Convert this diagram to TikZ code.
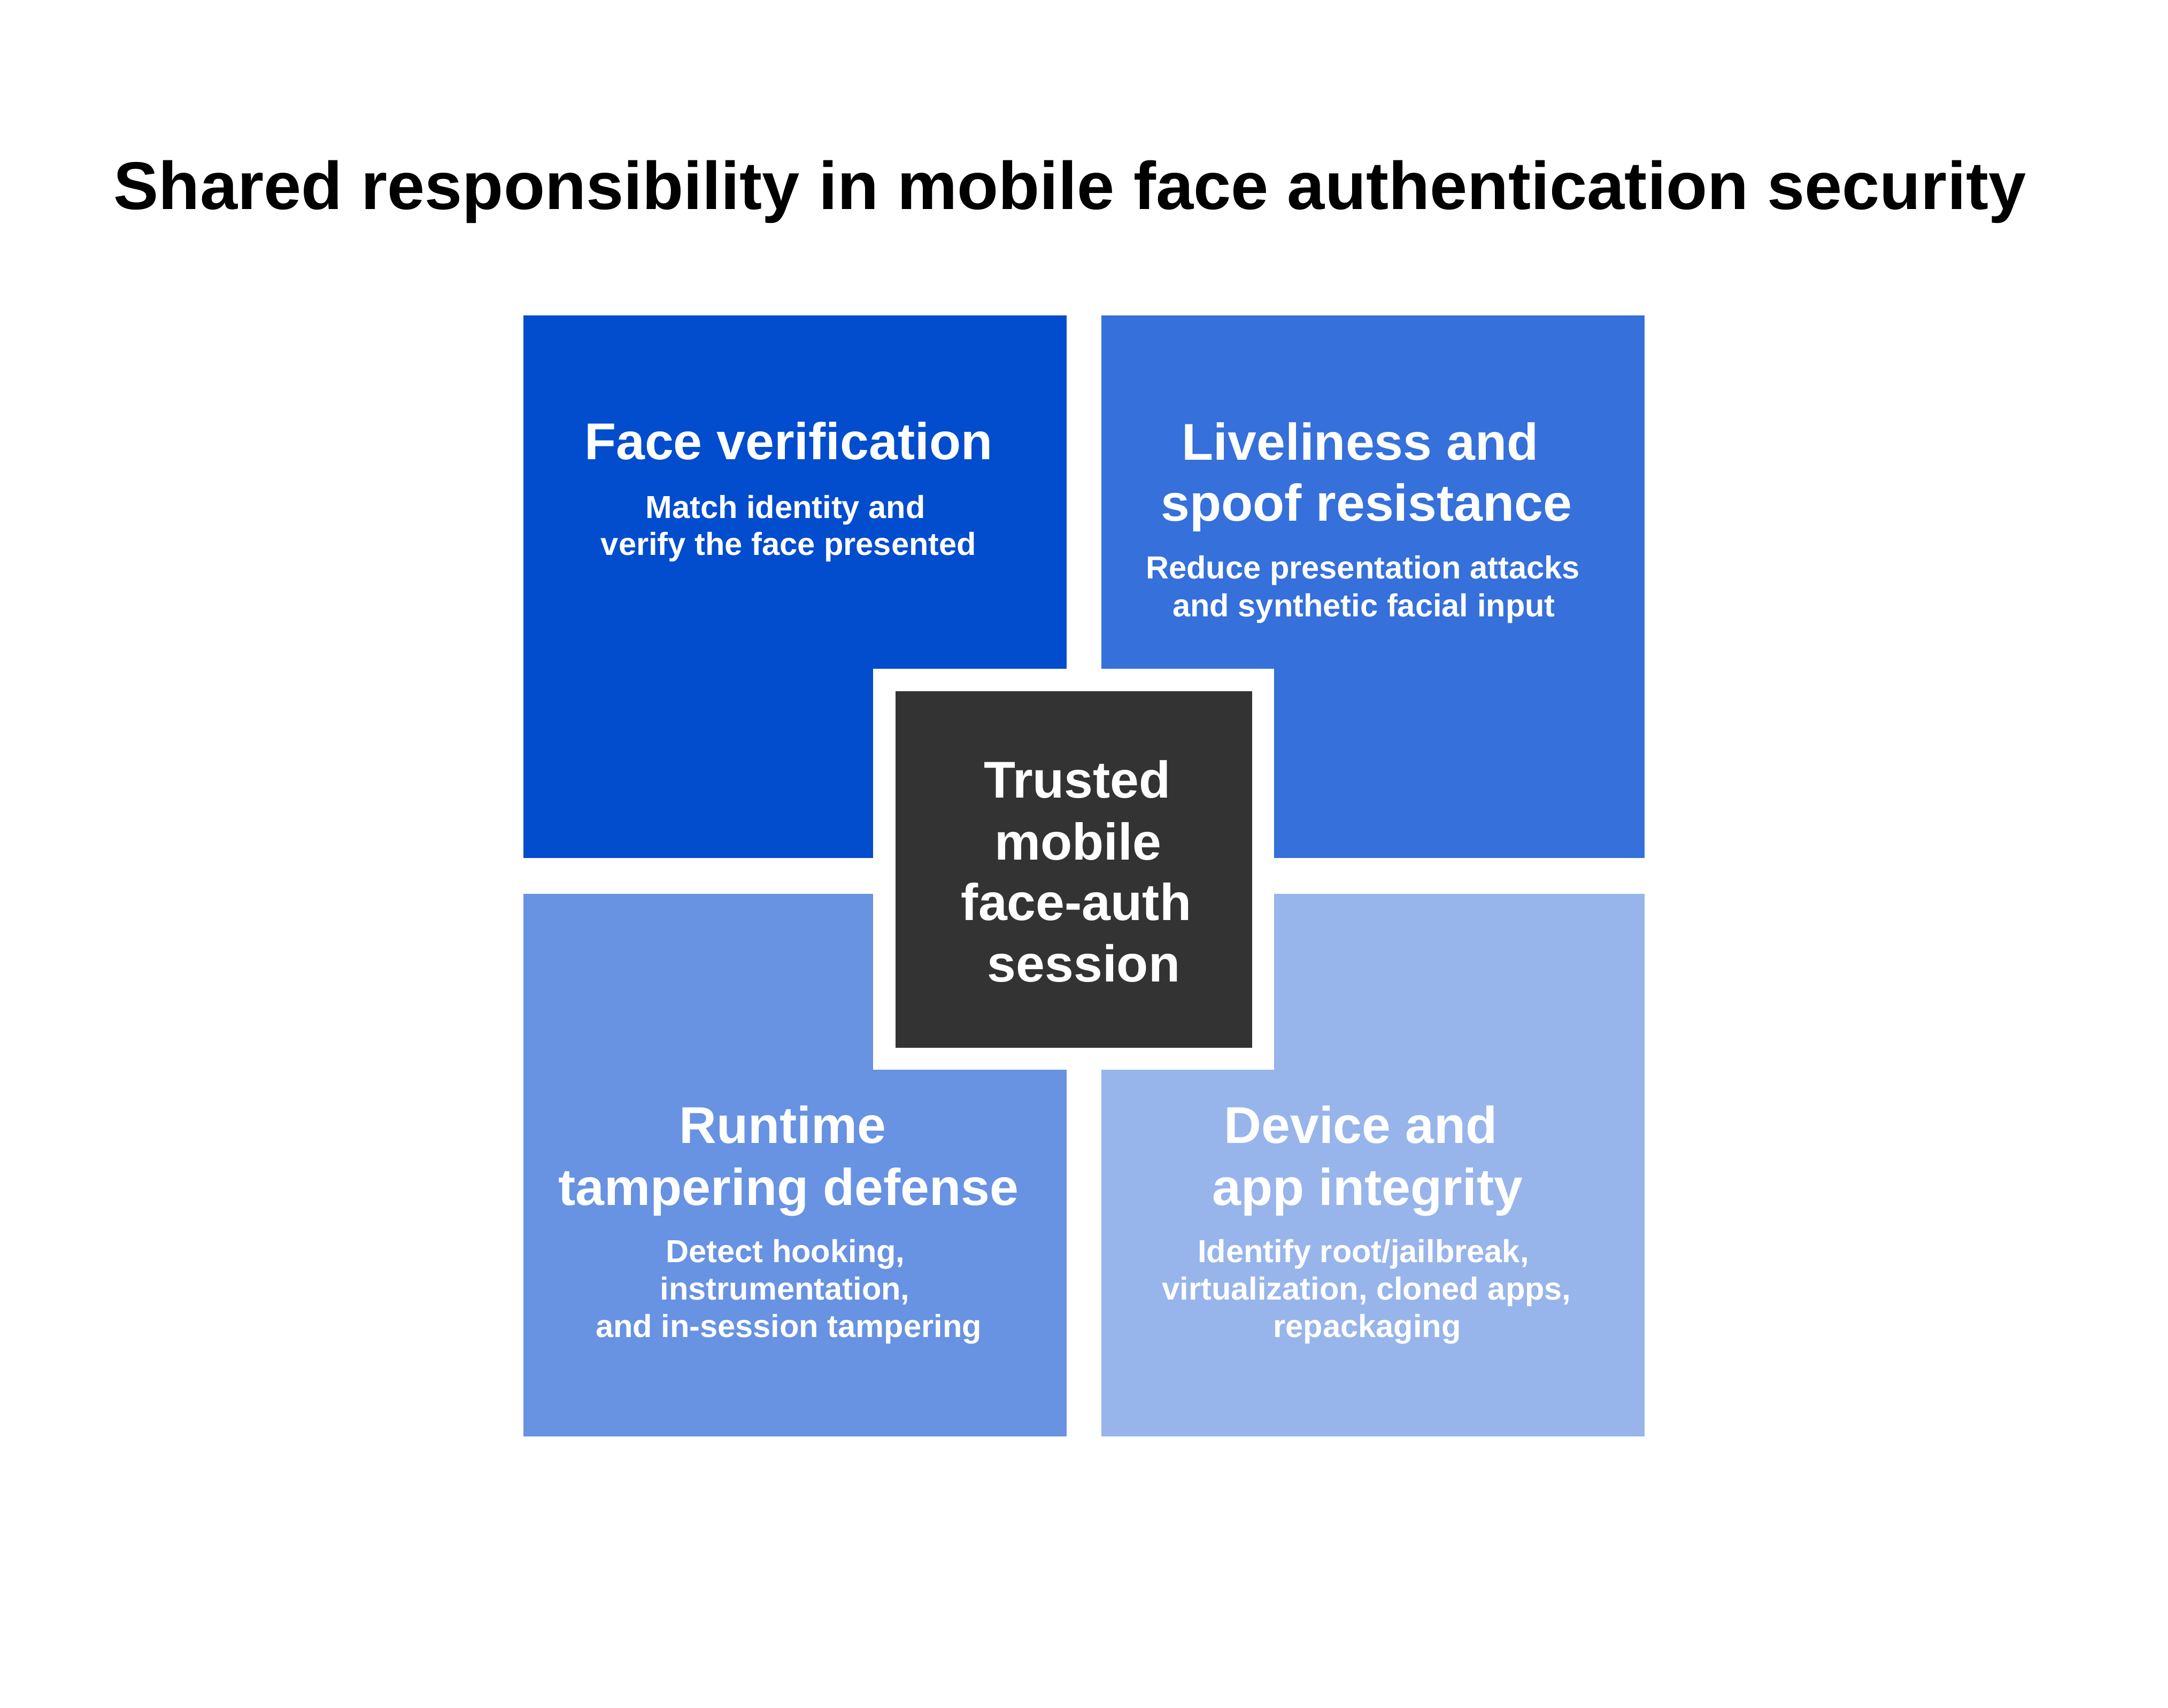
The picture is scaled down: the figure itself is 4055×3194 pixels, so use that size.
\documentclass[tikz,border=0pt]{standalone}
\usepackage{fontspec}
\setmainfont{Liberation Sans}
\definecolor{cTL}{RGB}{2,76,206}
\definecolor{cTR}{RGB}{53,112,219}
\definecolor{cBL}{RGB}{104,146,226}
\definecolor{cBR}{RGB}{151,181,235}
\definecolor{cDark}{RGB}{51,51,51}
\tikzset{
  quad/.style={draw=none, inner sep=0pt, outer sep=0pt, anchor=north west,
    minimum width=254pt, minimum height=253.75pt},
  ttl/.style={anchor=base, inner sep=0pt, text=white,
    font=\bfseries\fontsize{24.2}{29}\selectfont},
  sub/.style={anchor=base, inner sep=0pt, text=white,
    font=\bfseries\fontsize{14.9}{18}\selectfont},
}
\begin{document}
\begin{tikzpicture}[x=0.25pt,y=-0.25pt]
\useasboundingbox (0,0) rectangle (4055,3194);
\fill[white] (0,0) rectangle (4055,3194);
% main title
\node[anchor=base, inner sep=0pt, text=black,
  font=\bfseries\fontsize{31.55}{38}\selectfont] (title) at (2001,391)
  {Shared responsibility in mobile face authentication security};
% quadrants
\node[quad, fill=cTL] (fv) at (979,590) {};
\node[quad, fill=cTR] (lv) at (2060,590) {};
\node[quad, fill=cBL] (rt) at (979,1672) {};
\node[quad, fill=cBR] (di) at (2060,1672) {};
% centre
\node[draw=none, fill=white, inner sep=0pt, minimum size=187.5pt] (frame) at (2008,1626) {};
\node[draw=none, fill=cDark, inner sep=0pt, minimum size=166.75pt] (core) at (frame.center) {};
% centre text
\node[ttl] (c1) at (2015,1492) {Trusted};
\node[ttl] (c2) at (2016,1608) {mobile};
\node[ttl] (c3) at (2013,1721) {face-auth};
\node[ttl] (c4) at (2027,1836) {session};
% face verification
\node[ttl] (fvt) at (1475,859) {Face verification};
\node[sub] (fvs1) at (1469,969) {Match identity and};
\node[sub] (fvs2) at (1475,1038) {verify the face presented};
% liveliness
\node[ttl] (lvt1) at (2544,860) {Liveliness and};
\node[ttl] (lvt2) at (2556,974) {spoof resistance};
\node[sub] (lvs1) at (2549,1082) {Reduce presentation attacks};
\node[sub] (lvs2) at (2551,1153) {and synthetic facial input};
% runtime
\node[ttl] (rtt1) at (1464,2138) {Runtime};
\node[ttl] (rtt2) at (1475,2254) {tampering defense};
\node[sub] (rts1) at (1469,2361) {Detect hooking,};
\node[sub] (rts2) at (1468,2431) {instrumentation,};
\node[sub] (rts3) at (1475,2501) {and in-session tampering};
% device
\node[ttl] (dit1) at (2545,2138) {Device and};
\node[ttl] (dit2) at (2558,2254) {app integrity};
\node[sub] (dis1) at (2550,2361) {Identify root/jailbreak,};
\node[sub] (dis2) at (2556,2431) {virtualization, cloned apps,};
\node[sub] (dis3) at (2557,2501) {repackaging};
\end{tikzpicture}
\end{document}
